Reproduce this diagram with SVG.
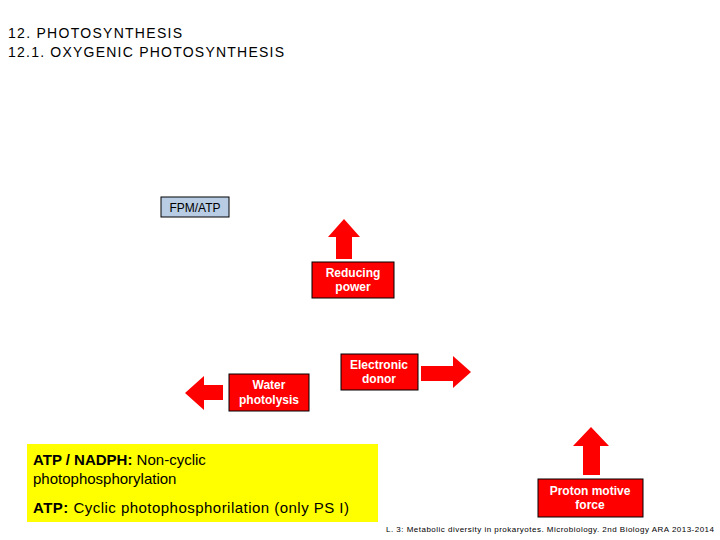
<svg xmlns="http://www.w3.org/2000/svg" width="720" height="540" viewBox="0 0 720 540">
<style>
text{font-family:"Liberation Sans",Arial,sans-serif}
.rb{fill:#f00;stroke:#000;stroke-width:1}
.rt{fill:#fff;font-weight:bold;font-size:12px;text-anchor:middle}
.ar{fill:#f00}
</style>
<rect width="720" height="540" fill="#fff"/>
<text x="8" y="38" font-size="14" textLength="174">12. PHOTOSYNTHESIS</text>
<text x="8" y="57" font-size="14" textLength="276">12.1. OXYGENIC PHOTOSYNTHESIS</text>
<g id="fpm"><rect x="161" y="197" width="68" height="20" fill="#b8cce4" stroke="#000"/><text x="195" y="212" font-size="12" text-anchor="middle">FPM/ATP</text></g>
<g id="connectors">
<polygon class="ar" points="336,259 352,259 352,237 360,237 344,219 328,237 336,237"/>
<polygon class="ar" points="421,366 453,366 453,356 471,372 453,388 453,381 421,381"/>
<polygon class="ar" points="223,385 204,385 204,376 185,393 204,410 204,400 223,400"/>
<polygon class="ar" points="583,475 600,475 600,446 609,446 591,427 573,446 583,446"/>
</g>
<g id="reducing"><rect class="rb" x="312" y="262" width="82" height="36"/><text class="rt" x="353" y="277">Reducing</text><text class="rt" x="353" y="291">power</text></g>
<g id="donor"><rect class="rb" x="341" y="354" width="77" height="36"/><text class="rt" x="379" y="369">Electronic</text><text class="rt" x="379" y="383">donor</text></g>
<g id="water"><rect class="rb" x="229" y="374" width="80" height="37"/><text class="rt" x="269" y="389">Water</text><text class="rt" x="269" y="404">photolysis</text></g>
<g id="proton"><rect class="rb" x="538" y="479" width="105" height="38"/><text class="rt" x="590" y="495">Proton motive</text><text class="rt" x="590" y="509">force</text></g>
<g id="note"><rect x="27" y="444" width="351" height="78" fill="#ff0"/>
<text x="33" y="465" font-size="15"><tspan font-weight="bold">ATP / NADPH:</tspan> Non-cyclic</text>
<text x="33" y="484" font-size="15">photophosphorylation</text>
<text x="33" y="513" font-size="15" textLength="316"><tspan font-weight="bold">ATP:</tspan> Cyclic photophosphorilation (only PS I)</text></g>
<text x="386" y="532" font-size="8" textLength="328">L. 3: Metabolic diversity in prokaryotes.  Microbiology. 2nd Biology ARA  2013-2014</text>
</svg>
